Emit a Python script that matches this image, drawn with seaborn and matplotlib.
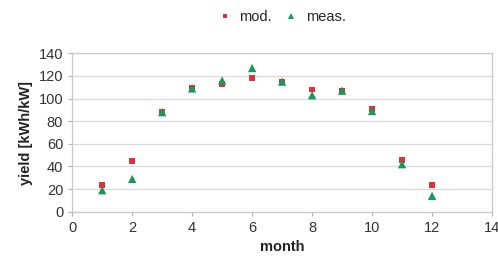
import pandas as pd
import seaborn as sns
import matplotlib.pyplot as plt

# monthly yield
months = [1, 2, 3, 4, 5, 6, 7, 8, 9, 10, 11, 12]
mod = [24, 45, 88, 109, 113, 118, 115, 108, 107, 91, 46, 24]
meas = [19, 29, 88, 109, 116, 127, 115, 103, 107, 89, 42, 14]

df = pd.DataFrame({
    'month': months * 2,
    'yield': mod + meas,
    'series': ['mod.'] * len(months) + ['meas.'] * len(months),
})

sns.set_style('white')
plt.rcParams['font.family'] = ['Liberation Sans', 'DejaVu Sans']

fig = plt.figure(figsize=(4.98, 2.68), dpi=100)
ax = fig.add_axes([0.145, 0.21, 0.843, 0.591])

sns.scatterplot(data=df, x='month', y='yield', hue='series', style='series',
                size='series', sizes={'mod.': 18, 'meas.': 36},
                palette={'mod.': '#e0303a', 'meas.': '#16995a'},
                markers={'mod.': 's', 'meas.': '^'},
                linewidth=0, ax=ax, zorder=3)

ax.set_xlim(0, 14)
ax.set_ylim(0, 140)
ax.set_xticks(range(0, 15, 2))
ax.set_yticks(range(0, 141, 20))
ax.yaxis.grid(True, color='#d9d9d9', linewidth=0.9)
for sp in ax.spines.values():
    sp.set_color('#c8c8c8')
    sp.set_linewidth(0.9)
ax.tick_params(axis='both', labelsize=10.5, colors='#333333', length=3,
               direction='out', bottom=True, left=True, color='#b0b0b0')
ax.set_xlabel('month', fontsize=10.5, fontweight='bold', color='#222222')
ax.set_ylabel('yield [kWh/kW]', fontsize=10.5, fontweight='bold', color='#222222')

ax.legend(loc='lower center', bbox_to_anchor=(0.49, 1.10), ncol=2, frameon=False,
          fontsize=10.5, handletextpad=0.0, columnspacing=0.3, markerscale=0.8)

plt.savefig('out.png', dpi=100)
